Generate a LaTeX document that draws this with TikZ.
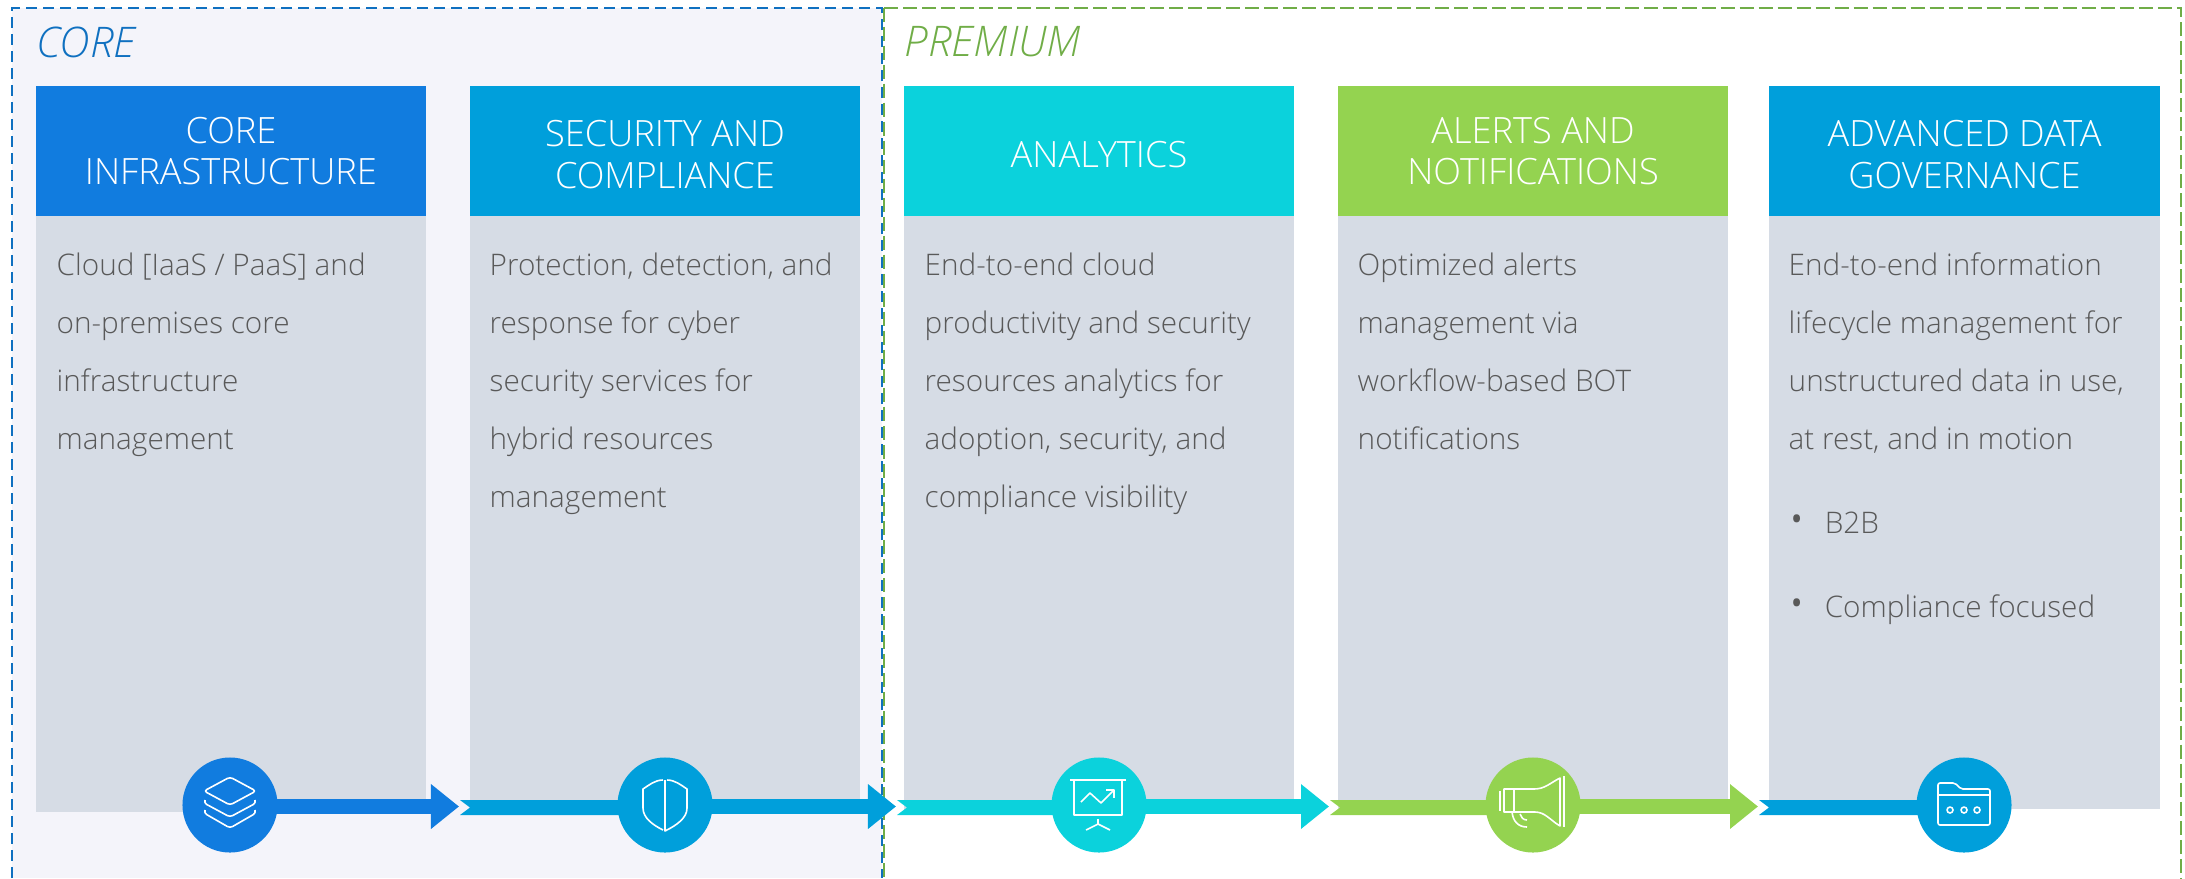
\documentclass[tikz,border=0pt]{standalone}
\usepackage{fontspec}
\setmainfont{Open Sans Light}
\usepackage{xcolor}
\usetikzlibrary{arrows.meta}
\definecolor{coreblue}{HTML}{117CDF}
\definecolor{secblue}{HTML}{009FDB}
\definecolor{tealc}{HTML}{0BD2DC}
\definecolor{greenc}{HTML}{94D350}
\definecolor{greyc}{HTML}{D6DCE5}
\definecolor{panelc}{HTML}{F4F4FA}
\definecolor{textc}{HTML}{595959}
\definecolor{coreline}{HTML}{0F70C0}
\definecolor{premline}{HTML}{70AD47}
\newcommand{\headdrop}{\rule{0pt}{9.4pt}}

\begin{document}
\begin{tikzpicture}[
            x = 0.01cm, y = -0.01cm, % one unit is one pixel of the page
            colhead/.style = {shape=rectangle, fill=#1, text=white, align=center, inner sep=0pt,
                minimum width=3.9cm, minimum height=1.3cm, font=\fontsize{10.3}{11.9}\selectfont},
            colbody/.style = {shape=rectangle, fill=greyc, inner sep=0pt, minimum width=3.9cm},
            coltext/.style = {anchor=north west, align=left, text=textc, inner sep=0pt,
                font=\fontsize{8.45}{16.5}\selectfont},
            bandtitle/.style = {anchor=west, inner sep=0pt, font=\fontsize{12}{14}\itshape\selectfont},
            stepicon/.style = {shape=circle, fill=#1, inner sep=0pt, minimum size=0.95cm},
            iconline/.style = {draw=white, line width=0.016cm, line join=round},
            stepout/.style = {draw=#1, line width=0.15cm,
                -{Triangle[length=0.28cm, width=0.43cm, fill=#1]}}
        ]
\useasboundingbox (0,0) rectangle (2185,878);

% the two bands
\fill[panelc] (12,7.5) rectangle (882,878);
\draw[premline, line width=0.02cm, dash pattern=on 0.14cm off 0.05cm] (884,7.5) -- (2181,7.5) -- (2181,878) (884,7.5) -- (884,878);
\draw[coreline, line width=0.02cm, dash pattern=on 0.11cm off 0.06cm] (12,878) -- (12,7.5) -- (882,7.5) -- (882,878);
\node[bandtitle, text=coreline] (coretitle) at (36,42) {CORE};
\node[bandtitle, text=premline] (premtitle) at (904,42) {PREMIUM};

% columns
\node[colbody, minimum height=5.96cm] (body1) at (231,514) {};
\node[colbody, minimum height=5.96cm] (body2) at (665,514) {};
\node[colbody, minimum height=5.96cm] (body3) at (1099,514) {};
\node[colbody, minimum height=5.96cm] (body4) at (1533,514) {};
\node[colbody, minimum height=5.93cm] (body5) at (1964.5,512.5) {};

\node[colhead=coreblue] (head1) at (231,151) {CORE\\INFRASTRUCTURE};
\node[colhead=secblue] (head2) at (665,151) {\headdrop SECURITY AND\\COMPLIANCE};
\node[colhead=tealc] (head3) at (1099,151) {\headdrop ANALYTICS};
\node[colhead=greenc] (head4) at (1533,151) {ALERTS AND\\NOTIFICATIONS};
\node[colhead=secblue] (head5) at (1964.5,151) {\headdrop ADVANCED DATA\\GOVERNANCE};

\node[coltext] (text1) at (56,252) {Cloud [IaaS / PaaS] and\\on-premises core\\infrastructure\\management};
\node[coltext] (text2) at (489,252) {Protection, detection, and\\response for cyber\\security services for\\hybrid resources\\management};
\node[coltext] (text3) at (924,252) {End-to-end cloud\\productivity and security\\resources analytics for\\adoption, security, and\\compliance visibility};
\node[coltext] (text4) at (1357,252) {Optimized alerts\\management via\\workflow-based BOT\\notifications};
\node[coltext] (text5) at (1788,252) {End-to-end information\\lifecycle management for\\unstructured data in use,\\at rest, and in motion\\[0.26cm]\makebox[0.36cm][l]{\raisebox{-0.6pt}{\fontsize{13}{13}\selectfont •}}B2B\\[0.26cm]\makebox[0.36cm][l]{\raisebox{-0.6pt}{\fontsize{13}{13}\selectfont •}}Compliance focused};

% step circles
\node[stepicon=coreblue] (icon1) at (230,805) {};
\node[stepicon=secblue] (icon2) at (665,805) {};
\node[stepicon=tealc] (icon3) at (1099,805) {};
\node[stepicon=greenc] (icon4) at (1533,805) {};
\node[stepicon=secblue] (icon5) at (1964,805) {};

% arrows between the circles
\coordinate (tip2) at (459,806.5);
\coordinate (tip3) at (896,806.5);
\coordinate (tip4) at (1329,806.5);
\coordinate (tip5) at (1758,806.5);
\coordinate (tail2) at (460,807.5);
\coordinate (tail3) at (897,807.5);
\coordinate (tail4) at (1330,807.5);
\coordinate (tail5) at (1759,807.5);

\path ([xshift=-0.02cm]icon1.east |- tip2) edge[stepout=coreblue] (tip2);
\path ([xshift=-0.02cm]icon2.east |- tip3) edge[stepout=secblue] (tip3);
\path ([xshift=-0.02cm]icon3.east |- tip4) edge[stepout=tealc] (tip4);
\path ([xshift=-0.02cm]icon4.east |- tip5) edge[stepout=greenc] (tip5);
\fill[secblue] (tail2) ++(0,-7.5) -- ++(10,7.5) -- ++(-10,7.5) -- ([xshift=0.02cm,yshift=-0.075cm]tail2 -| icon2.west) -- ([xshift=0.02cm,yshift=0.075cm]tail2 -| icon2.west) -- cycle;
\fill[tealc] (tail3) ++(0,-7.5) -- ++(10,7.5) -- ++(-10,7.5) -- ([xshift=0.02cm,yshift=-0.075cm]tail3 -| icon3.west) -- ([xshift=0.02cm,yshift=0.075cm]tail3 -| icon3.west) -- cycle;
\fill[greenc] (tail4) ++(0,-7.5) -- ++(10,7.5) -- ++(-10,7.5) -- ([xshift=0.02cm,yshift=-0.075cm]tail4 -| icon4.west) -- ([xshift=0.02cm,yshift=0.075cm]tail4 -| icon4.west) -- cycle;
\fill[secblue] (tail5) ++(0,-7.5) -- ++(10,7.5) -- ++(-10,7.5) -- ([xshift=0.02cm,yshift=-0.075cm]tail5 -| icon5.west) -- ([xshift=0.02cm,yshift=0.075cm]tail5 -| icon5.west) -- cycle;

% layers
\begin{scope}[shift={(icon1.center)}, iconline, rounded corners=0.03cm]
\draw (0,-28) -- (26,-14) -- (0,0) -- (-26,-14) -- cycle;
\draw (-25,-5) -- (-26,-2) -- (0,12) -- (26,-2) -- (25,-5);
\draw (-25,5) -- (-26,8) -- (0,23) -- (26,8) -- (25,5);
\end{scope}

% shield
\begin{scope}[shift={(icon2.center)}, iconline]
\draw (-2,-25) .. controls (-10,-25) and (-16,-20) .. (-22,-16) -- (-22,3) .. controls (-22,13) and (-12,20) .. (-2,25);
\draw (2,-25) .. controls (10,-25) and (16,-20) .. (22,-16) -- (22,3) .. controls (22,13) and (12,20) .. (0,26) -- (0,-25);
\end{scope}

% presentation board
\begin{scope}[shift={(icon3.center)}, iconline]
\draw (-29,-25) -- (27,-25);
\draw (-25,-25) -- (-25,10) -- (23,10) -- (23,-25);
\draw (-18,-3) -- (-9,-12) -- (2,-2) -- (15,-15);
\draw (7,-15) -- (15,-15) -- (15,-7);
\draw (-1,14) -- (-1,19);
\draw (-13,25) -- (-1,19) -- (11,25);
\end{scope}

% megaphone
\begin{scope}[shift={(icon4.center)}, iconline]
\draw (-33,-14) -- (-33,6);
\draw (31,-29) -- (31,22);
\draw (-29,-16) -- (1,-16) .. controls (12,-16) and (17,-22) .. (27,-27) -- (27,21) .. controls (17,15) and (12,7) .. (2,7) -- (-29,7) -- cycle;
\draw (-19,-16) -- (-19,7);
\draw (-21,7) .. controls (-20,16) and (-15,22) .. (-6,22);
\draw (-13,9) .. controls (-12,12) and (-10,15) .. (-6,15);
\end{scope}

% folder
\begin{scope}[shift={(icon5.center)}, iconline, rounded corners=0.02cm]
\draw (-26,-22) -- (-9,-22) -- (-3,-16) -- (26,-16) -- (26,20) -- (-26,20) -- cycle;
\draw (-26,-10) -- (26,-10);
\draw[rounded corners=0pt] (-14,5) circle[radius=3] (0,5) circle[radius=3] (13,5) circle[radius=3];
\end{scope}

\end{tikzpicture}
\end{document}
